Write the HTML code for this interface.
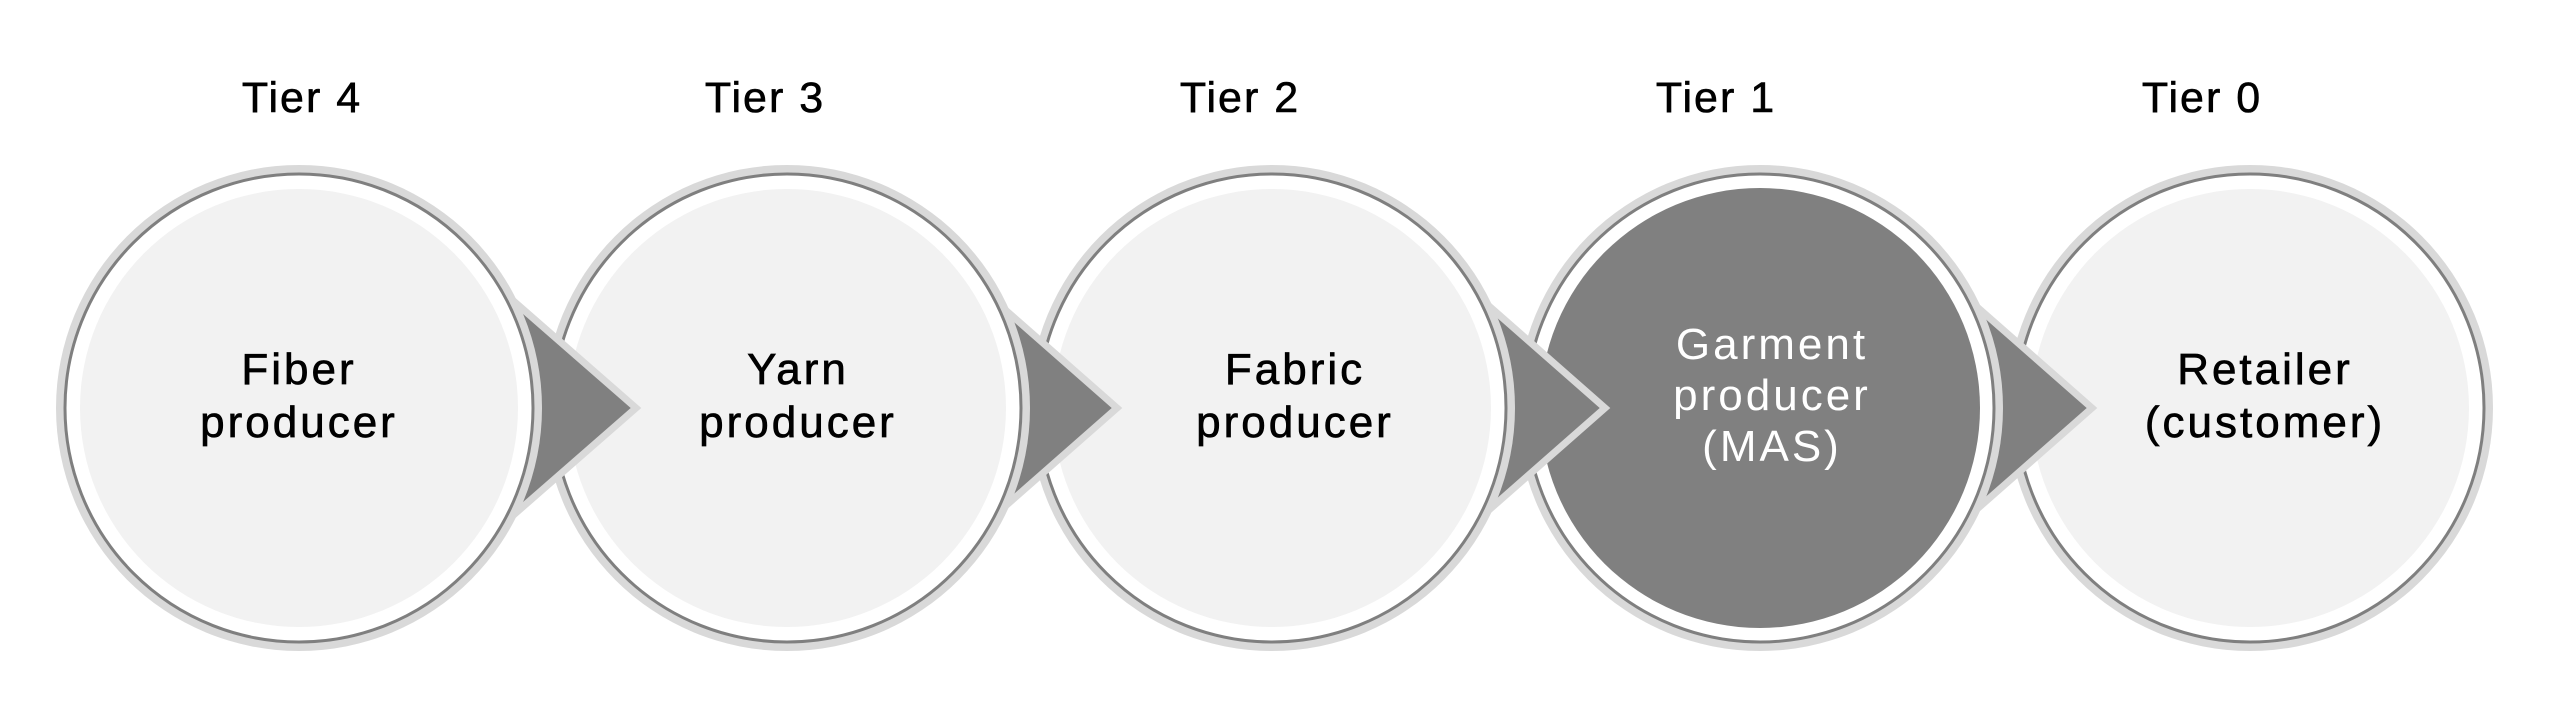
<!DOCTYPE html>
<html><head><meta charset="utf-8"><style>
html,body{margin:0;padding:0;background:#fff}
svg{display:block}
text{font-family:"Liberation Sans",sans-serif;text-anchor:middle}
</style></head><body>
<svg width="2560" height="713" viewBox="0 0 2560 713">
<defs>
<g id="c">
<circle r="243" fill="#d9d9d9"/>
<circle r="234" fill="#fff" stroke="#7f7f7f" stroke-width="3"/>
</g>
</defs>
<use href="#c" x="2250" y="408"/><circle cx="2250" cy="408" r="219" fill="#f2f2f2"/>
<polygon points="1935,270 2092,408 1935,546" fill="#808080" stroke="#d9d9d9" stroke-width="7"/>
<use href="#c" x="1760" y="408"/><circle cx="1760" cy="408" r="220" fill="#808080"/>
<polygon points="1448,270 1605,408 1448,546" fill="#808080" stroke="#d9d9d9" stroke-width="7"/>
<use href="#c" x="1272" y="408"/><circle cx="1272" cy="408" r="219" fill="#f2f2f2"/>
<polygon points="960,270 1117,408 960,546" fill="#808080" stroke="#d9d9d9" stroke-width="7"/>
<use href="#c" x="787" y="408"/><circle cx="787" cy="408" r="219" fill="#f2f2f2"/>
<polygon points="478,270 636,408 478,546" fill="#808080" stroke="#d9d9d9" stroke-width="7"/>
<use href="#c" x="299" y="408"/><circle cx="299" cy="408" r="219" fill="#f2f2f2"/>

<g font-size="43" fill="#000" stroke="#000" stroke-width="0.6" letter-spacing="2">
<text x="302" y="112">Tier 4</text>
<text x="765" y="112">Tier 3</text>
<text x="1240" y="112">Tier 2</text>
<text x="1716" y="112">Tier 1</text>
<text x="2202" y="112">Tier 0</text>
</g>
<g font-size="44" fill="#000" stroke="#000" stroke-width="0.7" letter-spacing="3">
<text x="299" y="384">Fiber</text><text x="299" y="437">producer</text>
<text x="798" y="384">Yarn</text><text x="798" y="437">producer</text>
<text x="1295" y="384">Fabric</text><text x="1295" y="437">producer</text>
<text x="2265" y="384">Retailer</text><text x="2265" y="437">(customer)</text>
</g>
<g font-size="44" fill="#fff" letter-spacing="3">
<text x="1772" y="359">Garment</text><text x="1772" y="410">producer</text><text x="1772" y="461">(MAS)</text>
</g>
</svg>
</body></html>
